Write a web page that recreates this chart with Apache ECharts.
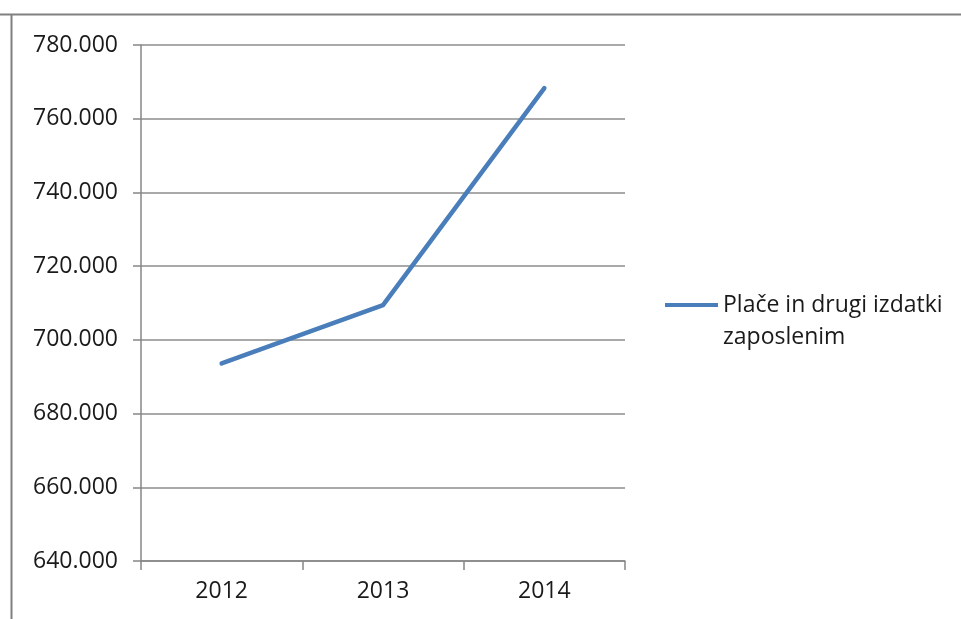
<!DOCTYPE html>
<html>
<head>
<meta charset="utf-8">
<script src="https://cdn.jsdelivr.net/npm/echarts@6/dist/echarts.min.js"></script>
<style>html,body{margin:0;padding:0;background:#fff;}#c{width:961px;height:619px;}</style>
</head>
<body>
<div id="c"></div>
<script>
const categories = ['2012', '2013', '2014'];
const seriesName = 'Plače in drugi izdatki zaposlenim';
const values = [693.6, 709.4, 768.3];
const yTicks = { min: 640, max: 780, interval: 20 };

const chart = echarts.init(document.getElementById('c'));
const fontFam = '"Open Sans", "Liberation Sans", sans-serif';
chart.setOption({
  animation: false,
  backgroundColor: '#fff',
  grid: { left: 141, right: 336, top: 45, bottom: 58 },
  graphic: [
    { type: 'line', shape: { x1: 0, y1: 14.5, x2: 961, y2: 14.5 }, style: { stroke: '#808080', lineWidth: 2 } },
    { type: 'line', shape: { x1: 11.5, y1: 14, x2: 11.5, y2: 619 }, style: { stroke: '#808080', lineWidth: 2 } }
  ],
  legend: {
    left: 665, top: 289,
    padding: 0,
    orient: 'vertical',
    data: [seriesName],
    icon: 'path://M0,0h0.01v0.01h-0.01z M0,2h53v4h-53z M0,39.99h0.01v0.01h-0.01z',
    itemWidth: 53, itemHeight: 40, itemGap: 5,
    itemStyle: { color: '#4a7ebb', borderWidth: 0 },
    formatter: () => 'Plače in drugi izdatki\nzaposlenim',
    textStyle: { fontFamily: fontFam, fontSize: 23, color: '#1a1a1a', lineHeight: 32 }
  },
  xAxis: {
    type: 'category',
    data: categories,
    boundaryGap: true,
    axisLine: { lineStyle: { color: '#868686', width: 1.5 } },
    axisTick: { show: true, length: 9, inside: false, lineStyle: { color: '#868686', width: 1.5 } },
    axisLabel: { margin: 19, fontFamily: fontFam, fontSize: 23, color: '#1a1a1a' },
    splitLine: { show: false }
  },
  yAxis: {
    type: 'value',
    min: yTicks.min, max: yTicks.max, interval: yTicks.interval,
    axisLine: { show: true, lineStyle: { color: '#868686', width: 1.5 } },
    axisTick: { show: true, length: 8, lineStyle: { color: '#868686', width: 1.5 } },
    splitLine: { lineStyle: { color: '#8c8c8c', width: 1.5 } },
    axisLabel: { margin: 23, fontFamily: fontFam, fontSize: 23, color: '#1a1a1a',
      formatter: v => v.toFixed(0) + '.000' }
  },
  series: [{
    name: seriesName,
    type: 'line',
    data: values,
    symbol: 'none',
    lineStyle: { color: '#4a7ebb', width: 4.5, cap: 'round', join: 'round' },
    itemStyle: { color: '#4a7ebb' }
  }]
});
</script>
</body>
</html>
